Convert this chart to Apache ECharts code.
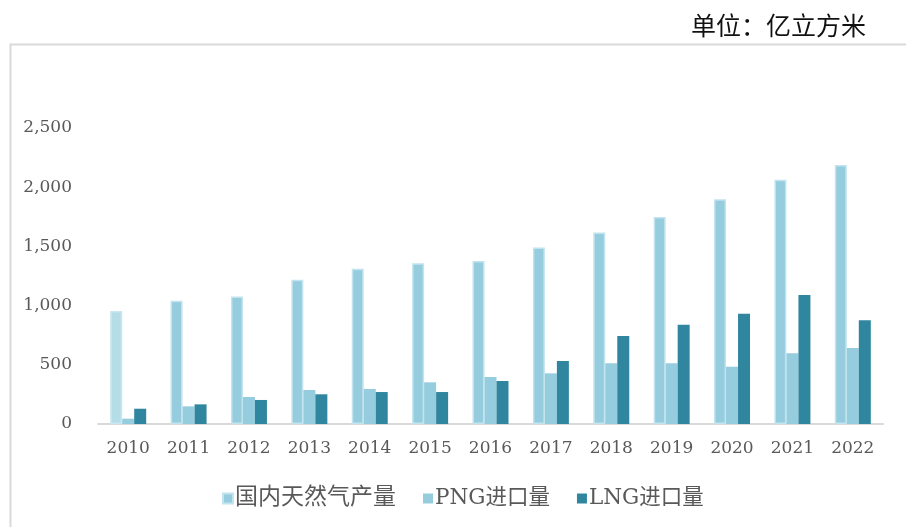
<!DOCTYPE html>
<html>
<head>
<meta charset="utf-8">
<script src="https://cdn.jsdelivr.net/npm/echarts@6/dist/echarts.min.js"></script>
<style>
  html, body { margin: 0; padding: 0; background: #fff; }
  #main { width: 906px; height: 527px; }
</style>
</head>
<body>
<div id="main"></div>
<script>
// 年份
const years = ['2010', '2011', '2012', '2013', '2014', '2015', '2016', '2017', '2018', '2019', '2020', '2021', '2022'];
// 国内天然气产量 (亿立方米)
const domestic = [955, 1040, 1077, 1218, 1311, 1357, 1377, 1490, 1618, 1748, 1898, 2063, 2187];
// PNG进口量
const pngImport = [45, 149, 228, 287, 296, 352, 397, 428, 513, 513, 484, 597, 642];
// LNG进口量
const lngImport = [129, 166, 203, 251, 270, 270, 363, 532, 743, 839, 932, 1090, 876];
const seriesNames = ['国内天然气产量', 'PNG进口量', 'LNG进口量'];

const serif = '"DejaVu Serif", "Liberation Serif", "Noto Sans CJK SC", serif';
const grey = '#595959';

var chartDom = document.getElementById('main');
var myChart = echarts.init(chartDom);
var option;

option = {
  animation: false,
  title: {
    text: '单位：亿立方米',
    right: 35,
    top: 8,
    textStyle: {
      fontFamily: '"Noto Sans CJK SC", sans-serif',
      fontWeight: 'normal',
      fontSize: 25,
      color: '#111'
    }
  },
  // 外框
  graphic: [
    {
      type: 'rect',
      left: 8,
      top: 42,
      shape: { width: 1000, height: 600 },
      style: { fill: 'none', stroke: '#d9d9d9', lineWidth: 2 },
      silent: true
    }
  ],
  legend: {
    bottom: 12,
    left: 217,
    itemWidth: 10,
    itemHeight: 10,
    itemGap: 27,
    icon: 'rect',
    formatter: name => name === seriesNames[0] ? `{cn|${name}}` : name,
    textStyle: {
      fontFamily: serif,
      fontSize: 21.5,
      color: grey,
      padding: [0, 0, 0, -3],
      rich: {
        cn: { fontFamily: serif, fontSize: 23, color: grey }
      }
    },
    data: seriesNames
  },
  grid: {
    left: 98,
    right: 23,
    top: 128,
    bottom: 103
  },
  xAxis: {
    type: 'category',
    data: years,
    axisLine: { lineStyle: { color: '#d9d9d9', width: 2 } },
    axisTick: { show: false },
    axisLabel: {
      fontFamily: serif,
      fontSize: 17,
      color: grey,
      margin: 16
    }
  },
  yAxis: {
    type: 'value',
    min: 0,
    max: 2500,
    interval: 500,
    splitLine: { show: false },
    axisLine: { show: false },
    axisTick: { show: false },
    axisLabel: {
      fontFamily: serif,
      fontSize: 17,
      color: grey,
      margin: 26,
      formatter: v => v.toLocaleString('en-US')
    }
  },
  series: [
    {
      name: seriesNames[0],
      type: 'bar',
      barWidth: 12,
      barGap: '0%',
      itemStyle: { color: '#95cddf', borderColor: '#c2e4ee', borderWidth: 1.5 },
      // 2010年颜色较浅
      data: domestic.map((v, i) => i === 0 ? { value: v, itemStyle: { color: '#b5dde8', borderColor: '#c8e7f0' } } : v)
    },
    {
      name: seriesNames[1],
      type: 'bar',
      barWidth: 12,
      barGap: '0%',
      itemStyle: { color: '#95cddf' },
      data: pngImport
    },
    {
      name: seriesNames[2],
      type: 'bar',
      barWidth: 12,
      barGap: '0%',
      itemStyle: { color: '#31869f' },
      data: lngImport
    }
  ]
};

option && myChart.setOption(option);
</script>
</body>
</html>
